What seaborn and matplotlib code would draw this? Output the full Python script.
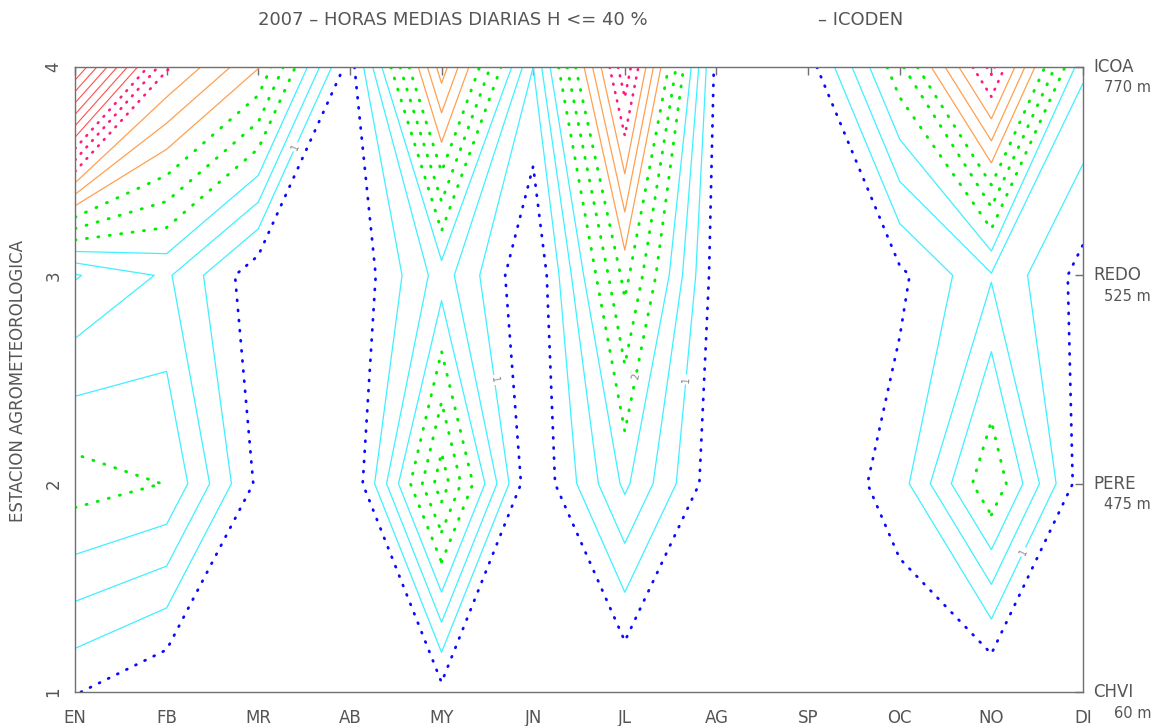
import numpy as np
import matplotlib
matplotlib.use("Agg")
import matplotlib.pyplot as plt
import seaborn as sns

# Estilo base
sns.set_style("white")
plt.rcParams["font.family"] = ["DejaVu Sans"]

months = ["EN", "FB", "MR", "AB", "MY", "JN", "JL", "AG", "SP", "OC", "NO", "DI"]
stations = ["CHVI", "PERE", "REDO", "ICOA"]
altitudes = ["60 m", "475 m", "525 m", "770 m"]

# Horas medias diarias con H <= 40 %, una lista por estacion (EN..DI)
chvi = [0.69, 0.33, 0.10, 0.10, 0.56, 0.20, 0.32, 0.20, 0.10, 0.34, 0.30, 0.30]
pere = [2.17, 1.99, 0.59, 0.31, 2.87, 0.33, 1.74, 0.42, 0.33, 0.85, 2.30, 0.46]
redo = [0.97, 1.39, 0.42, 0.34, 1.50, 0.30, 2.78, 0.48, 0.30, 0.59, 1.30, 0.54]
icoa = [7.05, 4.05, 3.02, 0.50, 3.85, 1.00, 4.60, 0.55, 0.50, 2.24, 4.45, 1.40]

# Niveles de isolineas (cada 1/3 de hora), agrupados por estilo
blue_levels = [2 / 3]
cyan_levels = [1, 4 / 3, 5 / 3]
green_levels = [2, 7 / 3, 8 / 3]
orange_levels = [3, 10 / 3, 11 / 3]
pink_levels = [4, 13 / 3, 14 / 3]
red_levels = [5, 16 / 3, 17 / 3, 6, 19 / 3, 20 / 3, 7]

# Posiciones (mes, estacion) de las etiquetas de las isolineas
label_1_pos = [(3.39, 3.62), (5.62, 2.50), (7.67, 2.50), (11.36, 1.67)]
label_2_pos = [(7.29, 2.50)]

GREY = "#707070"
TEXT = "#555555"


def draw_chart():
    fig = plt.figure(figsize=(11.53, 7.26), dpi=100)
    W, H = 1153, 726
    ax = fig.add_axes([75 / W, (H - 692) / H, 1008 / W, 625 / H])

    X, Y = np.meshgrid(np.arange(1, len(months) + 1), np.arange(1, len(stations) + 1))
    Z = np.array([chvi, pere, redo, icoa])

    styles = [
        (blue_levels, "#0a0aff", 2.0, (0, (0.35, 3.3))),
        (cyan_levels, "#3ff0ff", 0.9, None),
        (green_levels, "#00ee00", 2.1, (0, (0.35, 3.6))),
        (orange_levels, "#ffa050", 0.9, None),
        (pink_levels, "#ff1a80", 1.9, (0, (0.35, 2.9))),
        (red_levels, "#ff5050", 0.8, None),
    ]
    sets = []
    for levels, color, lw, dash in styles:
        cs = ax.contour(X, Y, Z, levels=levels, colors=color, linewidths=lw)
        if dash is not None:
            cs.set_linestyle(dash)
            cs.set_capstyle("round")
        sets.append(cs)

    # Etiquetas de las isolineas 1 y 2
    ax.clabel(sets[1], levels=[1], manual=label_1_pos, fmt="%d", fontsize=7,
              colors="#888888", inline=True, inline_spacing=2)
    ax.clabel(sets[2], levels=[2], manual=label_2_pos, fmt="%d", fontsize=7,
              colors="#888888", inline=True, inline_spacing=2)

    ax.set_xlim(1, 12)
    ax.set_ylim(1, 4)
    ax.set_xticks(range(1, len(months) + 1))
    ax.set_xticklabels(months)
    ax.set_yticks(range(1, len(stations) + 1))
    ax.set_yticklabels([str(i) for i in range(1, len(stations) + 1)],
                       rotation=90, va="center")
    ax.tick_params(direction="in", length=6, width=1, color=GREY,
                   top=True, right=True, labelsize=12, labelcolor=TEXT)
    ax.tick_params(axis="x", pad=12)
    ax.tick_params(axis="y", pad=9)
    for sp in ax.spines.values():
        sp.set_color(GREY)
        sp.set_linewidth(1.0)
        sp.set_visible(True)

    # Nombres y altitudes de las estaciones a la derecha
    for j, (name, alt) in enumerate(zip(stations, altitudes)):
        ax.annotate(name, xy=(1.0, j + 1), xycoords=("axes fraction", "data"),
                    xytext=(10, 0), textcoords="offset pixels", ha="left",
                    va="center", fontsize=12, color=TEXT, annotation_clip=False)
        ax.annotate(alt, xy=(1.0, j + 1), xycoords=("axes fraction", "data"),
                    xytext=(68, -21), textcoords="offset pixels", ha="right",
                    va="center", fontsize=10.5, color=TEXT, annotation_clip=False)

    fig.text(18 / W, 1 - 381 / H, "ESTACION AGROMETEOROLOGICA", rotation=90,
             ha="center", va="center", fontsize=12, color=TEXT)

    fig.text(258 / W, 1 - 20 / H, "2007 \u2013 HORAS MEDIAS DIARIAS H <= 40 %",
             ha="left", va="center", fontsize=13, color=TEXT)
    fig.text(818 / W, 1 - 20 / H, "\u2013 ICODEN",
             ha="left", va="center", fontsize=13, color=TEXT)

    fig.savefig("out.png", dpi=100)
    plt.close(fig)


if __name__ == "__main__":
    draw_chart()
